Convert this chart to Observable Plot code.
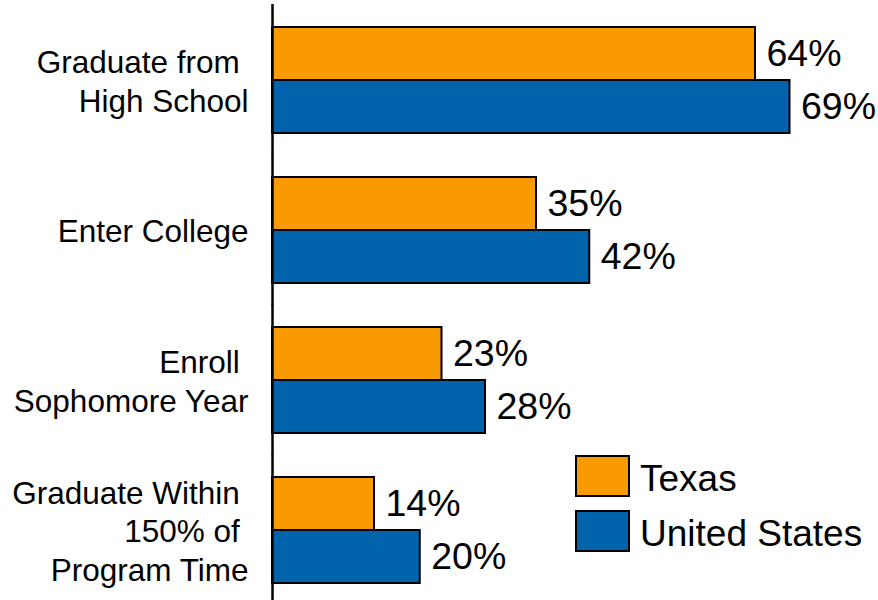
<!DOCTYPE html>
<html><head><meta charset="utf-8">
<script src="https://cdn.jsdelivr.net/npm/d3@7"></script>
<script src="https://cdn.jsdelivr.net/npm/@observablehq/plot@0.6"></script>
<style>
body{margin:0;background:#fff;}
#wrap{position:relative;width:878px;height:600px;overflow:hidden;background:#fff;}
#legend{position:absolute;left:576px;top:459px;width:302px;}
#legend .lg-swatches{margin:0;}
#legend .lg-swatch{padding-bottom:15px;line-height:40px;display:flex;align-items:center;}
#legend .lg-swatch > svg{margin-right:11px;overflow:visible;position:relative;top:-3px;}
#legend .lg-swatch rect{stroke:#000;stroke-width:2px;}
</style></head><body><div id="wrap"><div id="legend"></div></div>
<script>
const categories = ["Graduate from High School","Enter College","Enroll Sophomore Year","Graduate Within 150% of Program Time"];
const categoryLabels = ["Graduate from\u00a0\nHigh School","Enter College","Enroll\u00a0\nSophomore Year","Graduate Within\u00a0\n150% of\u00a0\nProgram Time"];
const series = ["Texas","United States"];
const texasValues = [64.4, 35.2, 22.6, 13.6];
const usValues = [69.0, 42.3, 28.4, 19.7];
const seriesColors = ["#F99A00","#0063AC"];

const data = categories.flatMap((c,i)=>[
  {category:c, series:series[0], value:texasValues[i]},
  {category:c, series:series[1], value:usValues[i]}
]);
const font = "'Liberation Sans', Arial, sans-serif";
const chart = Plot.plot({
  width:878, height:600, marginLeft:272, marginRight:6, marginTop:11, marginBottom:2,
  x:{domain:[0,80], axis:null},
  y:{domain:series, axis:null, padding:0},
  fy:{domain:categories, axis:null, paddingInner:0.287, paddingOuter:0.1},
  color:{domain:series, range:seriesColors},
  style:{fontFamily:font, background:"#fff"},
  marks:[
    Plot.barX(data,{fy:"category", y:"series", x:"value", fill:"series", stroke:"#000", strokeWidth:2}),
    Plot.ruleX([0],{stroke:"#000", strokeWidth:2.5, insetTop:-22, insetBottom:-22}),
    Plot.text(data,{fy:"category", y:"series", x:"value", text:d=>Math.round(d.value)+"%", textAnchor:"start", dx:11, fontSize:37.5, fill:"#000"}),
    Plot.text(categories,{fy:d=>d, text:(d,i)=>categoryLabels[i], frameAnchor:"left", textAnchor:"end", dx:-24, fontSize:31.5, lineHeight:1.22, fill:"#000"})
  ]
});
document.getElementById("wrap").prepend(chart);
const legend = Plot.legend({color:{domain:series, range:seriesColors}, columns:1, swatchWidth:53, swatchHeight:40, className:"lg", style:{fontSize:"37px", fontFamily:font, color:"#000"}});
document.getElementById("legend").append(legend);
</script>
</body></html>
